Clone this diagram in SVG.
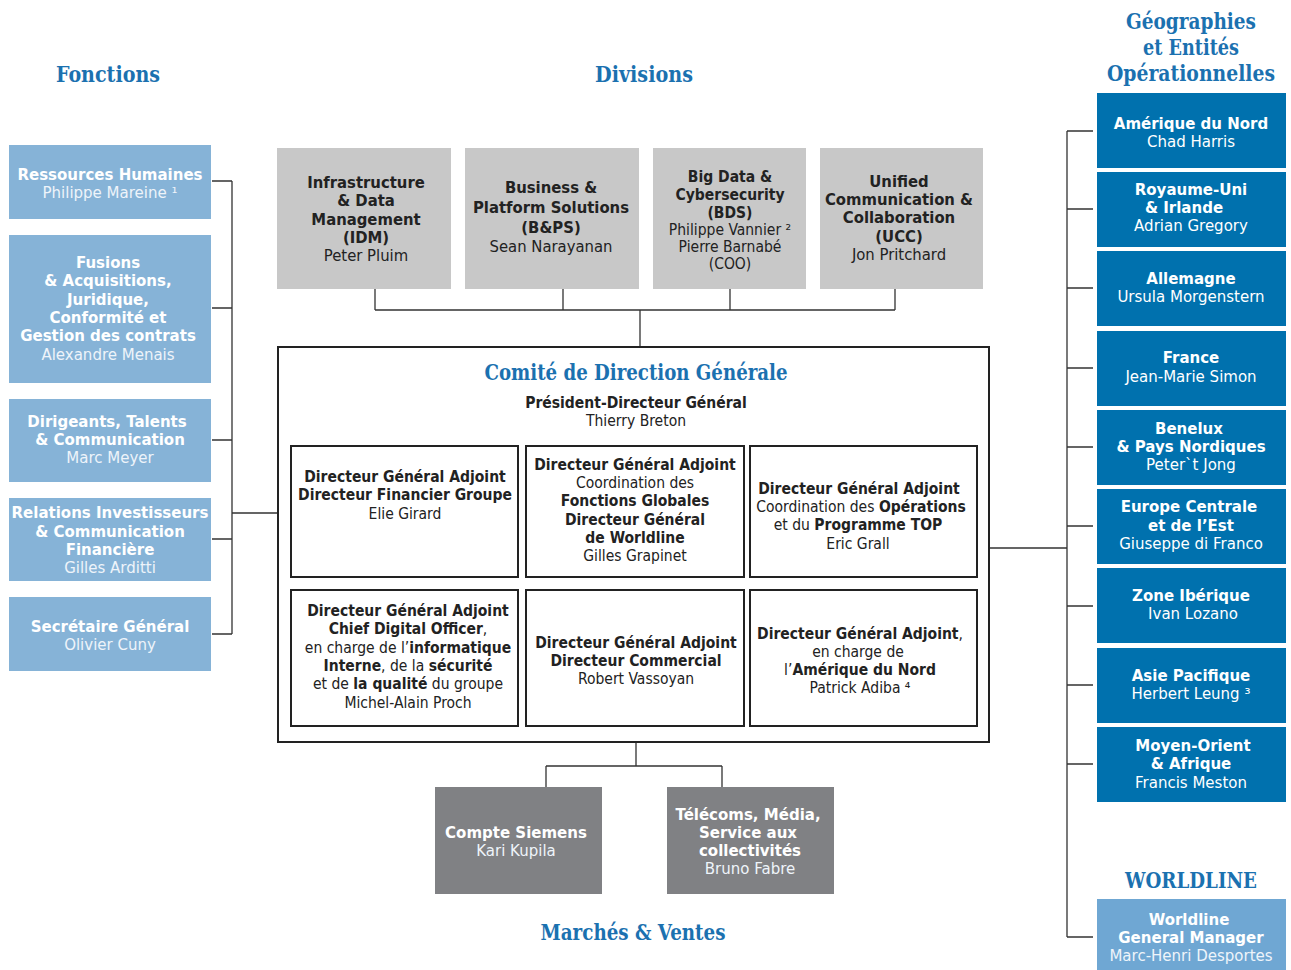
<svg xmlns="http://www.w3.org/2000/svg" width="1291" height="970" viewBox="0 0 1291 970">
<style>
.t{font-family:"DejaVu Sans",Verdana,sans-serif;font-size:15px;text-anchor:middle}
.c{font-family:"DejaVu Sans Condensed","DejaVu Sans",sans-serif;font-stretch:condensed;text-anchor:middle;fill:#222}
.dv{font-size:16.5px}
.ds{font-size:15.5px}
.cm{font-size:15.5px}
.b{font-weight:bold}
.w{fill:#fff}
.n{fill:#eef4fa}
.h{font-family:"DejaVu Serif Condensed","DejaVu Serif",serif;font-weight:bold;font-stretch:condensed;font-size:23px;fill:#1b71b0;text-anchor:middle}
.lb{fill:#86b3d7}
.db{fill:#0071ae}
.gr{fill:#c8c8c8}
.dg{fill:#808184}
.wl{fill:#6fa7d3}
.ln{fill:none;stroke:#333;stroke-width:1.3}
.bx{fill:#fff;stroke:#222;stroke-width:2}
</style>

<!-- Titles -->
<g id="titles">
<text class="h" x="108" y="82" textLength="104" lengthAdjust="spacingAndGlyphs">Fonctions</text>
<text class="h" x="644" y="82" textLength="98" lengthAdjust="spacingAndGlyphs">Divisions</text>
<text class="h" x="1191" y="29" textLength="130" lengthAdjust="spacingAndGlyphs">Géographies</text>
<text class="h" x="1191" y="55" textLength="96" lengthAdjust="spacingAndGlyphs">et Entités</text>
<text class="h" x="1191" y="81" textLength="168" lengthAdjust="spacingAndGlyphs">Opérationnelles</text>
<text class="h" x="633" y="940" textLength="185" lengthAdjust="spacingAndGlyphs">Marchés &amp; Ventes</text>
<text class="h" x="1191" y="888" textLength="132" lengthAdjust="spacingAndGlyphs">WORLDLINE</text>
</g>

<!-- Connectors -->
<g id="connectors">
<path class="ln" d="M212 181H232M212 308H232M212 440H232M212 539H232M212 634H232M232 181V634M232 513H278"/>
<path class="ln" d="M375 289V310M563 289V310M730 289V310M895 289V310M375 310H895M640 310V347"/>
<path class="ln" d="M636 742V766M546 766H722M546 766V787M722 766V787"/>
<path class="ln" d="M989 548H1067M1067 131V937M1067 131H1093M1067 209H1093M1067 288H1093M1067 368H1093M1067 447H1093M1067 526H1093M1067 606H1093M1067 685H1093M1067 764H1093M1067 937H1093"/>
</g>

<!-- Fonctions -->
<g id="rh"><rect class="lb" x="9" y="145" width="202" height="74"/>
<text class="t b w" x="110" y="180">Ressources Humaines</text>
<text class="t n" x="110" y="198">Philippe Mareine ¹</text></g>
<g id="fusions"><rect class="lb" x="9" y="235" width="202" height="148"/>
<text class="t b w" x="108" y="268">Fusions</text>
<text class="t b w" x="108" y="286">&amp; Acquisitions,</text>
<text class="t b w" x="108" y="305">Juridique,</text>
<text class="t b w" x="108" y="323">Conformité et</text>
<text class="t b w" x="108" y="341">Gestion des contrats</text>
<text class="t n" x="108" y="360">Alexandre Menais</text></g>
<g id="dirigeants"><rect class="lb" x="9" y="399" width="202" height="83"/>
<text class="t b w" x="107" y="427">Dirigeants, Talents</text>
<text class="t b w" x="110" y="445">&amp; Communication</text>
<text class="t n" x="110" y="463">Marc Meyer</text></g>
<g id="relations"><rect class="lb" x="9" y="498" width="202" height="83"/>
<text class="t b w" x="110" y="518">Relations Investisseurs</text>
<text class="t b w" x="110" y="537">&amp; Communication</text>
<text class="t b w" x="110" y="555">Financière</text>
<text class="t n" x="110" y="573">Gilles Arditti</text></g>
<g id="secretaire"><rect class="lb" x="9" y="597" width="202" height="74"/>
<text class="t b w" x="110" y="632">Secrétaire Général</text>
<text class="t n" x="110" y="650">Olivier Cuny</text></g>

<!-- Divisions -->
<g id="idm"><rect class="gr" x="277" y="148" width="174" height="141"/>
<text class="c dv b" x="366" y="188">Infrastructure</text>
<text class="c dv b" x="366" y="206">&amp; Data</text>
<text class="c dv b" x="366" y="225">Management</text>
<text class="c dv b" x="366" y="243">(IDM)</text>
<text class="c dv" x="366" y="261">Peter Pluim</text></g>
<g id="bps"><rect class="gr" x="465" y="148" width="174" height="141"/>
<text class="c dv b" x="551" y="193">Business &amp;</text>
<text class="c dv b" x="551" y="213">Platform Solutions</text>
<text class="c dv b" x="551" y="233">(B&amp;PS)</text>
<text class="c dv" x="551" y="252">Sean Narayanan</text></g>
<g id="bds"><rect class="gr" x="653" y="148" width="153" height="141"/>
<text class="c ds b" x="730" y="182">Big Data &amp;</text>
<text class="c ds b" x="730" y="200">Cybersecurity</text>
<text class="c ds b" x="730" y="218">(BDS)</text>
<text class="c ds" x="730" y="235">Philippe Vannier ²</text>
<text class="c ds" x="730" y="252">Pierre Barnabé</text>
<text class="c ds" x="730" y="269">(COO)</text></g>
<g id="ucc"><rect class="gr" x="820" y="148" width="163" height="141"/>
<text class="c dv b" x="899" y="187">Unified</text>
<text class="c dv b" x="899" y="205">Communication &amp;</text>
<text class="c dv b" x="899" y="223">Collaboration</text>
<text class="c dv b" x="899" y="242">(UCC)</text>
<text class="c dv" x="899" y="260">Jon Pritchard</text></g>

<!-- Comité -->
<g id="comite"><rect class="bx" x="278" y="347" width="711" height="395"/>
<text class="h" x="636" y="380" textLength="303" lengthAdjust="spacingAndGlyphs">Comité de Direction Générale</text>
<text class="c cm b" x="636" y="408">Président-Directeur Général</text>
<text class="c cm" x="636" y="426">Thierry Breton</text></g>

<g id="dga-finance"><rect class="bx" x="291" y="446" width="227" height="131"/>
<text class="c cm b" x="405" y="482">Directeur Général Adjoint</text>
<text class="c cm b" x="405" y="500">Directeur Financier Groupe</text>
<text class="c cm" x="405" y="519">Elie Girard</text></g>
<g id="dga-fonctions"><rect class="bx" x="526" y="446" width="218" height="131"/>
<text class="c cm b" x="635" y="470">Directeur Général Adjoint</text>
<text class="c cm" x="635" y="488">Coordination des</text>
<text class="c cm b" x="635" y="506">Fonctions Globales</text>
<text class="c cm b" x="635" y="525">Directeur Général</text>
<text class="c cm b" x="635" y="543">de Worldline</text>
<text class="c cm" x="635" y="561">Gilles Grapinet</text></g>
<g id="dga-operations"><rect class="bx" x="750" y="446" width="227" height="131"/>
<text class="c cm b" x="859" y="494">Directeur Général Adjoint</text>
<text class="c cm" x="861" y="512">Coordination des <tspan class="b">Opérations</tspan></text>
<text class="c cm" x="858" y="530">et du <tspan class="b">Programme TOP</tspan></text>
<text class="c cm" x="858" y="549">Eric Grall</text></g>
<g id="dga-digital"><rect class="bx" x="291" y="590" width="227" height="136"/>
<text class="c cm b" x="408" y="616">Directeur Général Adjoint</text>
<text class="c cm" x="408" y="634"><tspan class="b">Chief Digital Officer</tspan>,</text>
<text class="c cm" x="408" y="653">en charge de l’<tspan class="b">informatique</tspan></text>
<text class="c cm" x="408" y="671"><tspan class="b">Interne</tspan>, de la <tspan class="b">sécurité</tspan></text>
<text class="c cm" x="408" y="689">et de <tspan class="b">la qualité</tspan> du groupe</text>
<text class="c cm" x="408" y="708">Michel-Alain Proch</text></g>
<g id="dga-commercial"><rect class="bx" x="526" y="590" width="218" height="136"/>
<text class="c cm b" x="636" y="648">Directeur Général Adjoint</text>
<text class="c cm b" x="636" y="666">Directeur Commercial</text>
<text class="c cm" x="636" y="684">Robert Vassoyan</text></g>
<g id="dga-amerique"><rect class="bx" x="750" y="590" width="227" height="136"/>
<text class="c cm" x="860" y="639"><tspan class="b">Directeur Général Adjoint</tspan>,</text>
<text class="c cm" x="858" y="657">en charge de</text>
<text class="c cm" x="860" y="675">l’<tspan class="b">Amérique du Nord</tspan></text>
<text class="c cm" x="860" y="693">Patrick Adiba ⁴</text></g>

<!-- Marchés & Ventes -->
<g id="siemens"><rect class="dg" x="435" y="787" width="167" height="107"/>
<text class="t b w" x="516" y="838">Compte Siemens</text>
<text class="t n" x="516" y="856">Kari Kupila</text></g>
<g id="telecoms"><rect class="dg" x="667" y="787" width="167" height="107"/>
<text class="t b w" x="748" y="820">Télécoms, Média,</text>
<text class="t b w" x="748" y="838">Service aux</text>
<text class="t b w" x="750" y="856">collectivités</text>
<text class="t n" x="750" y="874">Bruno Fabre</text></g>

<!-- Géographies -->
<g id="amerique-nord"><rect class="db" x="1097" y="93" width="189" height="75"/>
<text class="t b w" x="1191" y="129">Amérique du Nord</text>
<text class="t w" x="1191" y="147">Chad Harris</text></g>
<g id="royaume-uni"><rect class="db" x="1097" y="172" width="189" height="75"/>
<text class="t b w" x="1191" y="195">Royaume-Uni</text>
<text class="t b w" x="1184" y="213">&amp; Irlande</text>
<text class="t w" x="1191" y="231">Adrian Gregory</text></g>
<g id="allemagne"><rect class="db" x="1097" y="251" width="189" height="75"/>
<text class="t b w" x="1191" y="284">Allemagne</text>
<text class="t w" x="1191" y="302">Ursula Morgenstern</text></g>
<g id="france"><rect class="db" x="1097" y="331" width="189" height="75"/>
<text class="t b w" x="1191" y="363">France</text>
<text class="t w" x="1191" y="382">Jean-Marie Simon</text></g>
<g id="benelux"><rect class="db" x="1097" y="410" width="189" height="75"/>
<text class="t b w" x="1189" y="434">Benelux</text>
<text class="t b w" x="1191" y="452">&amp; Pays Nordiques</text>
<text class="t w" x="1191" y="470">Peter`t Jong</text></g>
<g id="europe-centrale"><rect class="db" x="1097" y="489" width="189" height="75"/>
<text class="t b w" x="1189" y="512">Europe Centrale</text>
<text class="t b w" x="1191" y="531">et de l’Est</text>
<text class="t w" x="1191" y="549">Giuseppe di Franco</text></g>
<g id="zone-iberique"><rect class="db" x="1097" y="568" width="189" height="75"/>
<text class="t b w" x="1191" y="601">Zone Ibérique</text>
<text class="t w" x="1193" y="619">Ivan Lozano</text></g>
<g id="asie-pacifique"><rect class="db" x="1097" y="648" width="189" height="75"/>
<text class="t b w" x="1191" y="681">Asie Pacifique</text>
<text class="t w" x="1191" y="699">Herbert Leung ³</text></g>
<g id="moyen-orient"><rect class="db" x="1097" y="727" width="189" height="75"/>
<text class="t b w" x="1193" y="751">Moyen-Orient</text>
<text class="t b w" x="1191" y="769">&amp; Afrique</text>
<text class="t w" x="1191" y="788">Francis Meston</text></g>
<g id="worldline"><rect class="wl" x="1097" y="899" width="189" height="71"/>
<text class="t b w" x="1189" y="925">Worldline</text>
<text class="t b w" x="1191" y="943">General Manager</text>
<text class="t n" x="1191" y="961">Marc-Henri Desportes</text></g>
</svg>
